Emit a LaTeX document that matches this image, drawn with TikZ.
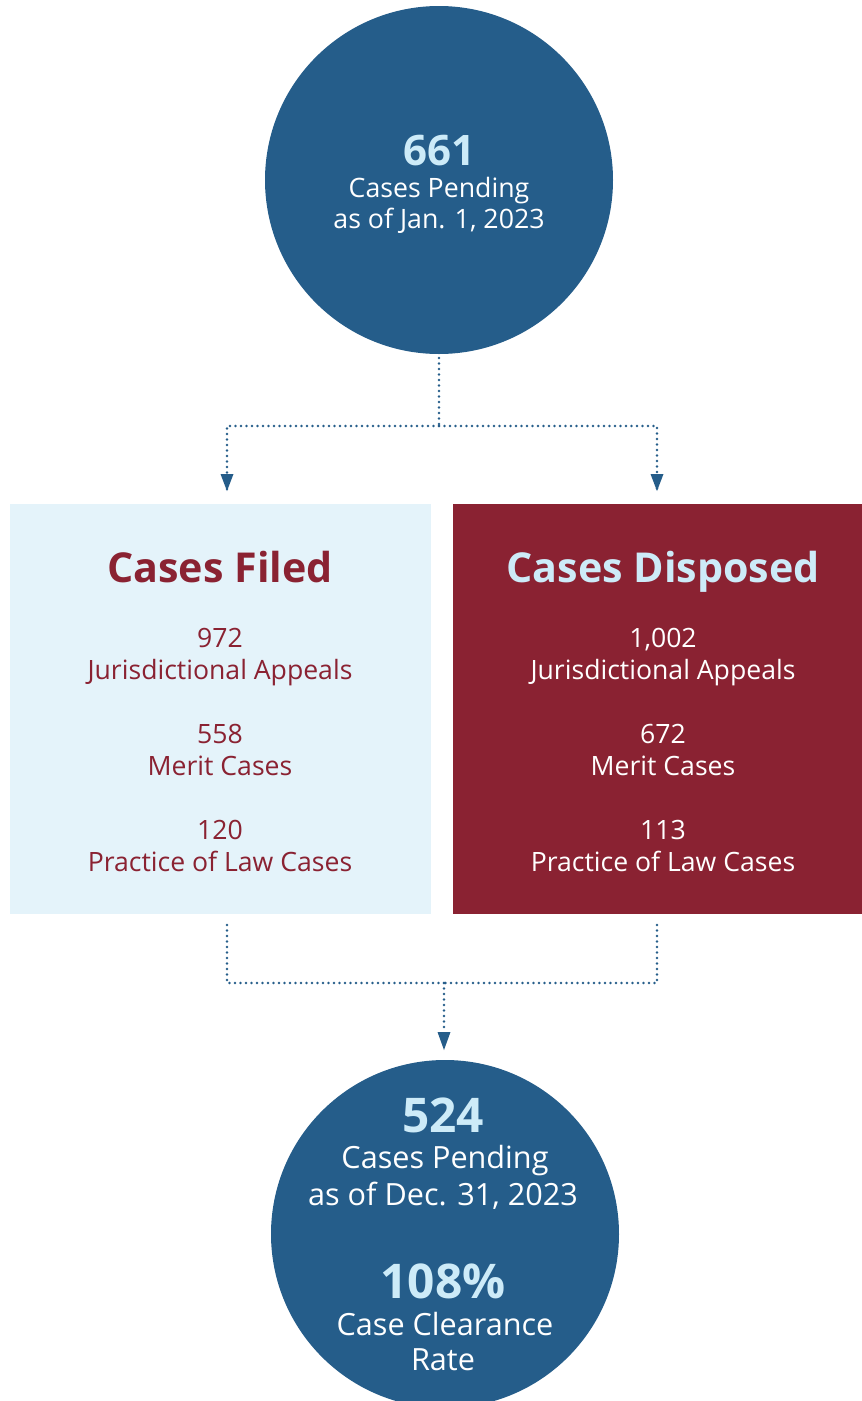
\documentclass[tikz,border=0pt]{standalone}
\usepackage{fontspec}
\setmainfont{Open Sans}
\usetikzlibrary{arrows.meta}
\definecolor{cblue}{HTML}{255D8A}
\definecolor{numblue}{HTML}{CDEBF8}
\definecolor{cred}{HTML}{8A2232}
\definecolor{lblue}{HTML}{E4F3FA}
\tikzset{
  circ/.style={circle,fill=cblue,inner sep=0pt,minimum size=348pt},
  panel/.style={anchor=north west,inner sep=0pt,minimum width=#1,minimum height=410pt},
  bignum/.style={anchor=base,text=numblue,font=\fontsize{42}{48}\selectfont\bfseries},
  bignumb/.style={anchor=base,text=numblue,font=\fontsize{47.8}{52}\selectfont\bfseries},
  ctxt/.style={anchor=base,text=white,font=\fontsize{26.7}{31}\selectfont},
  ctxtb/.style={anchor=base,text=white,font=\fontsize{30.6}{36}\selectfont},
  ttl/.style={anchor=base,font=\fontsize{41.2}{46}\selectfont\bfseries},
  btxt/.style={anchor=base,font=\fontsize{26.6}{30}\selectfont},
  dotline/.style={draw=cblue,line width=2.7pt,line cap=round,dash pattern=on 0pt off 5.5pt}
}
\begin{document}
\begin{tikzpicture}[x=1pt,y=-1pt]
\useasboundingbox (0,0) rectangle (862,1401);
\clip (0,0) rectangle (862,1401);
% top circle
\node[circ] (top) at (439,180) {};
\node[bignum] (n661) at (439,165) {661};
\node[ctxt] (t1a) at (439,197) {Cases Pending};
\node[ctxt] (t1b) at (439,228) {as of Jan. 1, 2023};
% panels
\node[panel=421pt,fill=lblue] (filed) at (10,504) {};
\node[panel=409pt,fill=cred] (disp) at (453,504) {};
% filed texts
\node[ttl,text=cred] (fT) at (220,582) {Cases Filed};
\node[btxt,text=cred] (f1a) at (220,647) {972};
\node[btxt,text=cred] (f1b) at (220,679) {Jurisdictional Appeals};
\node[btxt,text=cred] (f2a) at (220,743) {558};
\node[btxt,text=cred] (f2b) at (220,775) {Merit Cases};
\node[btxt,text=cred] (f3a) at (220,839) {120};
\node[btxt,text=cred] (f3b) at (220,871) {Practice of Law Cases};
% disposed texts
\node[ttl,text=numblue] (dT) at (663,582) {Cases Disposed};
\node[btxt,text=white] (d1a) at (663,647) {1,002};
\node[btxt,text=white] (d1b) at (663,679) {Jurisdictional Appeals};
\node[btxt,text=white] (d2a) at (663,743) {672};
\node[btxt,text=white] (d2b) at (663,775) {Merit Cases};
\node[btxt,text=white] (d3a) at (663,839) {113};
\node[btxt,text=white] (d3b) at (663,871) {Practice of Law Cases};
% bottom circle
\node[circ] (bot) at (445,1234) {};
\node[bignumb] (n524) at (443,1132) {524};
\node[ctxtb] (b1a) at (445,1168) {Cases Pending};
\node[ctxtb] (b1b) at (443,1205) {as of Dec. 31, 2023};
\node[bignumb] (n108) at (443,1298) {108\%};
\node[ctxtb] (b2a) at (445,1335) {Case Clearance};
\node[ctxtb] (b2b) at (443,1370) {Rate};
% connectors top
\coordinate (s1) at (439,358);
\coordinate (j1) at (439,426);
\coordinate (lA) at (227,491);
\coordinate (rA) at (657,491);
\draw[dotline] (s1) -- (j1);
\draw[dotline] (j1) -| (lA);
\draw[dotline] (j1) -| (rA);
\fill[cblue] (lA) -- ++(-6.5,-17) -- ++(13,0) -- cycle;
\fill[cblue] (rA) -- ++(-6.5,-17) -- ++(13,0) -- cycle;
% connectors bottom
\coordinate (lB) at (227,925);
\coordinate (rB) at (657,925);
\coordinate (j2) at (444,983);
\coordinate (bA) at (444,1050);
\draw[dotline] (lB) |- (j2);
\draw[dotline] (rB) |- (j2);
\draw[dotline] (j2) -- ++(0,48);
\fill[cblue] (bA) -- ++(-6.5,-18) -- ++(13,0) -- cycle;
\end{tikzpicture}
\end{document}
